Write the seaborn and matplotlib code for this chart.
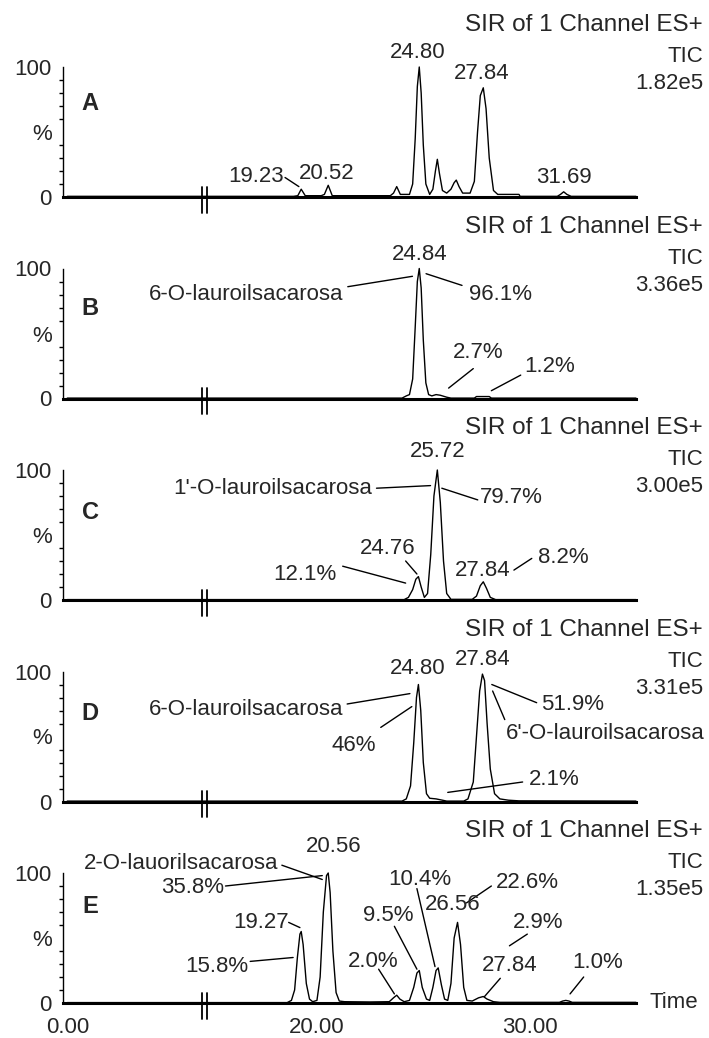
import numpy as np
import matplotlib
matplotlib.use("Agg")
import matplotlib.pyplot as plt
import seaborn as sns

sns.set_theme(style="white")
plt.rcParams['font.family'] = ['Liberation Sans', 'DejaVu Sans']
plt.rcParams['font.size'] = 16

# ---- data (time in min, intensity in %) ----
panels = ["A", "B", "C", "D", "E"]
tic_values = ["1.82e5", "3.36e5", "3.00e5", "3.31e5", "1.35e5"]

trace_A = [(0, 0.5), (18.9, 0.5), (19.1, 1), (19.26, 6), (19.45, 1), (20.2, 1), (20.35, 2),
           (20.53, 9), (20.72, 1), (23.45, 1), (23.6, 3), (23.75, 8), (23.92, 2), (24.35, 2),
           (24.5, 10), (24.62, 45), (24.72, 85), (24.81, 100), (24.9, 80), (25.0, 40),
           (25.12, 10), (25.3, 2), (25.45, 6), (25.57, 20), (25.66, 29), (25.76, 18),
           (25.9, 5), (26.1, 3), (26.3, 6), (26.45, 11), (26.55, 13), (26.68, 8), (26.85, 3),
           (27.2, 3), (27.4, 12), (27.55, 50), (27.68, 78), (27.82, 84), (27.95, 68),
           (28.1, 30), (28.3, 5), (28.5, 2), (29.5, 2), (29.55, 0.5), (31.3, 0.5),
           (31.45, 2), (31.6, 4), (31.75, 2), (31.95, 0.5), (35, 0.5)]
trace_B = [(0, 0.3), (24.0, 0.3), (24.2, 2), (24.35, 3), (24.5, 15), (24.62, 55), (24.72, 90),
           (24.81, 100), (24.9, 85), (25.0, 45), (25.12, 12), (25.25, 3), (25.4, 2),
           (25.6, 3), (25.8, 2.5), (26.1, 1), (26.3, 0.3), (27.4, 0.3), (27.5, 1.5),
           (28.1, 1.5), (28.2, 0.3), (35, 0.3)]
trace_C = [(0, 0.3), (24.1, 0.3), (24.3, 2), (24.5, 8), (24.65, 16), (24.77, 18), (24.9, 10),
           (25.05, 2), (25.2, 5), (25.35, 35), (25.5, 80), (25.66, 100), (25.8, 75),
           (25.95, 30), (26.1, 5), (26.3, 0.5), (27.3, 0.5), (27.5, 3), (27.68, 11),
           (27.82, 14), (27.97, 9), (28.15, 2), (28.4, 0.3), (35, 0.3)]
trace_D = [(0, 0.3), (24.0, 0.3), (24.2, 2), (24.4, 12), (24.55, 45), (24.68, 80), (24.77, 90),
           (24.88, 70), (25.0, 30), (25.15, 6), (25.3, 2.5), (25.6, 2), (25.9, 1),
           (26.1, 0.3), (26.9, 0.3), (27.1, 2), (27.35, 15), (27.5, 50), (27.65, 85),
           (27.78, 98), (27.88, 93), (28.0, 60), (28.15, 25), (28.35, 6), (28.6, 2),
           (29.0, 1), (29.5, 0.5), (35, 0.3)]
trace_E = [(0, 0.3), (18.6, 0.3), (18.8, 2), (18.95, 10), (19.08, 35), (19.2, 53), (19.26, 55),
           (19.35, 45), (19.5, 15), (19.65, 3), (19.8, 1), (20.0, 2), (20.15, 20), (20.3, 70),
           (20.45, 98), (20.53, 100), (20.62, 85), (20.75, 40), (20.9, 8), (21.05, 1.5),
           (21.3, 1), (22.5, 0.8), (23.4, 1), (23.6, 4), (23.75, 6), (23.9, 3), (24.1, 1),
           (24.35, 2), (24.55, 12), (24.7, 23), (24.81, 25), (24.95, 12), (25.15, 3),
           (25.3, 2), (25.45, 12), (25.6, 25), (25.7, 27), (25.85, 14), (26.0, 3),
           (26.15, 2), (26.3, 15), (26.45, 50), (26.61, 62), (26.75, 45), (26.9, 12),
           (27.05, 2), (27.3, 1.5), (27.6, 4), (27.82, 5), (28.0, 3), (28.3, 1), (28.6, 0.5),
           (31.4, 0.5), (31.55, 1.5), (31.7, 2), (31.85, 1.5), (32.0, 0.5), (35, 0.5)]
traces = [trace_A, trace_B, trace_C, trace_D, trace_E]

# labels: (text, x, y, leader line or None)
labels_A = [("19.23", 17.12, 16, ((18.5, 15), (19.15, 8))),
            ("20.52", 20.47, 18, None),
            ("24.80", 24.72, 111, None),
            ("27.84", 27.73, 95, None),
            ("31.69", 31.59, 15, None)]
labels_B = [("24.84", 24.81, 111, None),
            ("6-O-lauroilsacarosa", 16.65, 80, ((21.45, 86), (24.49, 94))),
            ("96.1%", 28.62, 80, ((25.13, 96), (26.82, 87))),
            ("2.7%", 27.6, 35, ((26.19, 8), (27.35, 23))),
            ("1.2%", 30.95, 25, ((28.2, 6), (29.58, 18)))]
labels_C = [("25.72", 25.66, 114, None),
            ("1'-O-lauroilsacarosa", 17.92, 86, ((22.8, 86), (25.34, 88))),
            ("79.7%", 29.15, 79, ((25.87, 86), (27.56, 77))),
            ("24.76", 23.33, 40, ((24.17, 30), (24.7, 20))),
            ("12.1%", 19.41, 20, ((21.21, 26), (24.17, 13))),
            ("27.84", 27.78, 23, ((29.26, 23), (30.1, 32))),
            ("8.2%", 31.59, 33, None)]
labels_D = [("24.80", 24.74, 102, None),
            ("27.84", 27.8, 109, None),
            ("6-O-lauroilsacarosa", 16.65, 71, ((21.42, 75), (24.37, 83))),
            ("46%", 21.74, 43, ((23.0, 57), (24.46, 73))),
            ("51.9%", 32.02, 75, ((28.22, 90), (30.33, 76))),
            ("6'-O-lauroilsacarosa", 33.57, 52, ((28.26, 85), (28.83, 63))),
            ("2.1%", 31.17, 17, ((26.15, 7), (29.67, 15)))]
labels_E = [("20.56", 20.78, 120, None),
            ("2-O-lauorilsacarosa", 5.35, 107, ((18.35, 106), (20.25, 95))),
            ("35.8%", 5.87, 89, ((15.7, 90), (20.25, 98))),
            ("19.27", 17.39, 62, ((18.67, 62), (19.2, 58))),
            ("15.8%", 15.3, 28, ((16.86, 32), (18.88, 35))),
            ("2.0%", 22.65, 32, ((22.9, 26), (23.64, 7))),
            ("9.5%", 23.33, 67, ((23.64, 59), (24.7, 26))),
            ("10.4%", 24.85, 95, ((24.7, 88), (25.55, 28))),
            ("26.56", 26.4, 76, None),
            ("22.6%", 29.89, 93, ((27.03, 77), (28.2, 90))),
            ("2.9%", 30.42, 62, ((29.05, 44), (29.89, 53))),
            ("27.84", 29.05, 29, ((27.88, 5), (28.62, 19))),
            ("1.0%", 33.18, 31, ((31.9, 7), (32.54, 20)))]
labels = [labels_A, labels_B, labels_C, labels_D, labels_E]
letter_y = [72, 69, 67, 68, 74]

# broken time axis: 6.34 .. 14.83 squeezed out
L, R, EPS = 6.34, 14.83, 0.027
fR = L + (R - L) * EPS


def fwd(x):
    x = np.asarray(x, float)
    return np.where(x <= L, x, np.where(x <= R, L + (x - L) * EPS, fR + (x - R)))


def inv(u):
    u = np.asarray(u, float)
    return np.where(u <= L, u, np.where(u <= fR, L + (u - L) / EPS, R + (u - fR)))


fig = plt.figure(figsize=(7.09, 10.38), dpi=100)
H = 1038.0
baselines = [197, 398.5, 600, 801.5, 1003]
ax_h = 130

major_x = [0, 20, 30]
minor_x = [t for t in list(range(0, 7)) + list(range(15, 36)) if t not in major_x]

for i, name in enumerate(panels):
    ax = fig.add_axes([63 / 709, 1 - baselines[i] / H, 573 / 709, ax_h / H])
    ax.set_facecolor('none')
    tr = traces[i]
    sns.lineplot(x=[p[0] for p in tr], y=[p[1] for p in tr], ax=ax, color='black',
                 lw=1, estimator=None, sort=False, clip_on=False)
    ax.set_xscale('function', functions=(fwd, inv))
    ax.set_xlim(-0.2, 35)
    ax.set_ylim(0, 100)
    ax.set_xlabel('')
    ax.set_ylabel('')

    for s in ['top', 'right']:
        ax.spines[s].set_visible(False)
    ax.spines['bottom'].set_linewidth(2.2)
    ax.spines['left'].set_linewidth(1)
    for s in ['bottom', 'left']:
        ax.spines[s].set_color('black')

    if i == len(panels) - 1:
        ax.set_xticks(major_x, ['0.00', '20.00', '30.00'])
    else:
        ax.set_xticks(major_x, ['', '', ''])
    ax.set_xticks(minor_x, minor=True)
    ax.set_yticks([0, 50, 100], ['0', '%', '100'])
    ax.set_yticks([10, 20, 30, 40, 60, 70, 80, 90], minor=True)
    ax.tick_params(axis='x', which='major', direction='out', length=8.5, width=1,
                   color='black', pad=1.5, labelsize=16)
    ax.tick_params(axis='x', which='minor', direction='out', length=5, width=1,
                   color='black')
    ax.tick_params(axis='y', which='major', direction='out', length=7, width=1,
                   color='black', pad=1, labelsize=16)
    ax.tick_params(axis='y', which='minor', direction='out', length=3, width=1,
                   color='black', left=True)

    # break marks on the time axis
    trans = ax.get_xaxis_transform()
    for bx in (L, R):
        ax.plot([bx, bx], [-0.12, 0.08], transform=trans, color='black', lw=1.3,
                clip_on=False)

    # header
    ax.text(1.117, 1.32, "SIR of 1 Channel ES+", transform=ax.transAxes, ha='right',
            va='center', fontsize=17.5)
    ax.text(1.117, 1.08, "TIC", transform=ax.transAxes, ha='right', va='center')
    ax.text(1.117, 0.87, tic_values[i], transform=ax.transAxes, ha='right',
            va='center')
    ax.text(1.08, letter_y[i], name, ha='center', va='center', fontsize=17,
            fontweight='bold')

    for txt, tx, ty, line in labels[i]:
        ax.text(tx, ty, txt, ha='center', va='center')
        if line is not None:
            (x0, y0), (x1, y1) = line
            ax.plot([x0, x1], [y0, y1], color='black', lw=1, clip_on=False)

    if i == len(panels) - 1:
        ax.text(1.024, 0, "Time", transform=ax.transAxes, ha='left', va='center')

fig.savefig("out.png", dpi=100, facecolor='white')
